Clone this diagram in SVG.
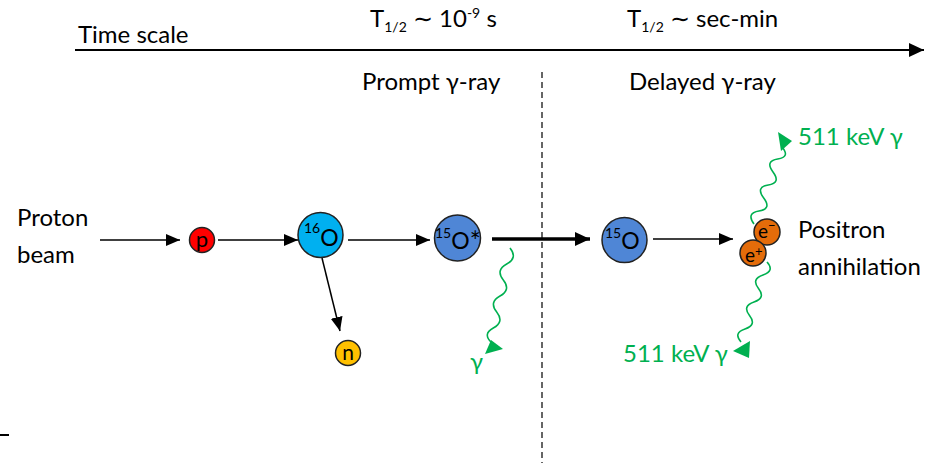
<svg xmlns="http://www.w3.org/2000/svg" width="933" height="463" viewBox="0 0 933 463">
<style>
text{font-family:Lato,"Liberation Sans",sans-serif;fill:#000}
.lbl{font-size:24px}
.grn{fill:#00b050}
.in{font-size:23px}
.sup{font-size:14px}
.es{font-size:13px}
.ln{stroke:#000;stroke-width:1.5;fill:none}
.wave{stroke:#00b050;stroke-width:1.6;fill:none}
.ah{fill:#00b050}
.nd{stroke:#222;stroke-width:1.5}
</style>
<defs>
<marker id="arr" markerUnits="userSpaceOnUse" markerWidth="16" markerHeight="14" refX="14" refY="6" orient="auto"><path d="M0,0 L14,6 L0,12 Z" fill="#000"/></marker>
<marker id="arrB" markerUnits="userSpaceOnUse" markerWidth="18" markerHeight="16" refX="15" refY="7" orient="auto"><path d="M0,0 L15,7 L0,14 Z" fill="#000"/></marker>
</defs>

<g id="timescale">
<line x1="75" y1="50" x2="924" y2="50" stroke="#000" stroke-width="2" marker-end="url(#arrB)"/>
<text class="lbl" x="78" y="43">Time scale</text>
<text class="lbl" x="370" y="27">T<tspan class="sup" dy="5">1/2</tspan><tspan dy="-5"> ∼ 10</tspan><tspan class="sup" dy="-9">-9</tspan><tspan dy="9"> s</tspan></text>
<text class="lbl" x="627" y="27">T<tspan class="sup" dy="5">1/2</tspan><tspan dy="-5"> ∼ sec-min</tspan></text>
<text class="lbl" x="362" y="90">Prompt γ-ray</text>
<text class="lbl" x="629" y="90">Delayed γ-ray</text>
<line x1="542" y1="72" x2="542" y2="463" stroke="#333" stroke-width="1.5" stroke-dasharray="6 4"/>
<line x1="0" y1="435" x2="9" y2="435" stroke="#000" stroke-width="2"/>
</g>

<g id="beam"><text class="lbl" x="17" y="226">Proton</text><text class="lbl" x="17" y="263">beam</text></g>

<g id="connectors">
<line class="ln" x1="100" y1="240" x2="180" y2="240" marker-end="url(#arr)"/>
<line class="ln" x1="218" y1="240" x2="298" y2="240" marker-end="url(#arr)"/>
<line class="ln" x1="348" y1="240" x2="430" y2="240" marker-end="url(#arr)"/>
<line class="ln" x1="322" y1="258" x2="340" y2="331" marker-end="url(#arr)"/>
<line x1="492" y1="239" x2="590" y2="239" stroke="#000" stroke-width="3.5" marker-end="url(#arrB)"/>
<line class="ln" x1="653" y1="239" x2="733" y2="239" marker-end="url(#arr)"/>
<path class="wave" d="M510,248 Q518,258 506.7,264 T503.3,280 T500,296 T496.7,312 T493.3,328 T492,343"/>
<polygon class="ah" points="485,354 491,340 503,349"/>
<path class="wave" d="M754,224 Q746,213 759,211 T763.7,198 T768.3,185 T773,172 T777.7,159 T782,147"/>
<polygon class="ah" points="792,141 778,132 781,151"/>
<path class="wave" d="M767,262 Q775,271 763,275 T758.5,288.5 T754,302 T749.5,315.5 T745,329 T741,342"/>
<polygon class="ah" points="733,351 750,341 749,358"/>
</g>

<g id="p"><circle class="nd" cx="202" cy="240" r="12.5" fill="#ff0000"/><text x="202" y="247" text-anchor="middle" font-size="22">p</text></g>
<g id="o16"><circle class="nd" cx="320.5" cy="235" r="22.5" fill="#00b0f0"/><text x="304" y="233"><tspan class="sup">16</tspan><tspan class="in" dy="13">O</tspan></text></g>
<g id="n"><circle class="nd" cx="348" cy="353" r="12.5" fill="#ffc000"/><text x="348" y="360" text-anchor="middle" font-size="21">n</text></g>
<g id="o15s"><circle class="nd" cx="457.5" cy="238" r="23" fill="#4f86d6"/><text x="435" y="238"><tspan class="sup">15</tspan><tspan class="in" dy="11">O</tspan><tspan font-size="26" dy="2">*</tspan></text></g>
<g id="o15"><circle class="nd" cx="624.5" cy="240" r="22.5" fill="#4f86d6"/><text x="605" y="238"><tspan class="sup">15</tspan><tspan class="in" dy="11">O</tspan></text></g>
<g id="eminus"><circle class="nd" cx="767" cy="232" r="13" fill="#e46c0a"/><text x="758" y="238" font-size="19">e<tspan class="es" dy="-8">−</tspan></text></g>
<g id="eplus"><circle class="nd" cx="753" cy="253" r="13" fill="#e46c0a"/><text x="745" y="262" font-size="19">e<tspan class="es" dy="-6">+</tspan></text></g>
<g id="annih"><text class="lbl" x="798" y="238">Positron</text><text class="lbl" x="798" y="275">annihilation</text></g>
<g id="g511a"><text class="lbl grn" x="798" y="145">511 keV γ</text></g>
<g id="g511b"><text class="lbl grn" x="623" y="362">511 keV γ</text></g>
<g id="gprompt"><text class="lbl grn" x="470" y="370">γ</text></g>
</svg>
